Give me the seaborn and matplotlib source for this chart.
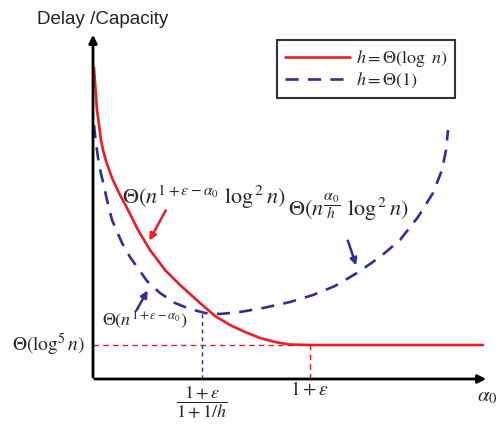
import numpy as np
import pandas as pd
import matplotlib
matplotlib.use('Agg')
import matplotlib.pyplot as plt
import seaborn as sns

# --- DATOS (unidades del dibujo: origen en el cruce de los ejes) ---
x_logn = [1, 4, 8, 10, 13, 19, 25, 35, 45, 57, 72, 87, 107, 122, 137, 152, 167,
          182, 197, 217, 390]
y_logn = [311, 269, 239, 229, 218, 201, 188, 169, 149, 129, 109, 94, 76, 63, 54,
          47, 41, 37, 34.5, 34, 34]

x_const = [1, 2, 4, 6, 10, 14, 19, 29, 37, 54, 67, 82, 97, 112, 127, 147, 170, 197,
           220, 242, 264, 287, 307, 325, 340, 349, 353, 355]
y_const = [254, 244, 229, 214, 197, 179, 159, 136, 122, 98, 86, 76, 70, 66, 65, 67, 71,
           77, 84, 93, 106, 122, 139, 162, 186, 209, 229, 249]

alpha_crit = 217      # 1 + eps
alpha_h = 109         # (1+eps)/(1+1/h)
y_floor = 34          # Theta(log^5 n)
y_min_const = 66

labels = [r'$h=\Theta(\log\ n)$', r'$h=\Theta(1)$']

RED = '#ED1C24'
BLUE = '#2E3192'

df = pd.concat([
    pd.DataFrame({'x': x_logn, 'y': y_logn, 'serie': labels[0]}),
    pd.DataFrame({'x': x_const, 'y': y_const, 'serie': labels[1]}),
])

sns.set_style('white')
plt.rcParams['mathtext.fontset'] = 'stix'
plt.rcParams['font.family'] = ['Liberation Sans', 'DejaVu Sans']

fig = plt.figure(figsize=(5.03, 4.24), dpi=100)
ax = fig.add_axes([0, 0, 1, 1])
ax.set_xlim(-93, 410)
ax.set_ylim(-45, 379)
ax.axis('off')

sns.lineplot(data=df, x='x', y='y', hue='serie', style='serie', sort=False,
             palette={labels[0]: RED, labels[1]: BLUE},
             dashes={labels[0]: '', labels[1]: (5, 3.5)},
             linewidth=1.9, ax=ax, legend=False)

# ejes con flechas
ax.annotate('', xy=(0, 347), xytext=(0, -1),
            arrowprops=dict(arrowstyle='-|>', color='black', lw=2, mutation_scale=12))
ax.annotate('', xy=(396, 0), xytext=(-1, 0),
            arrowprops=dict(arrowstyle='-|>', color='black', lw=2, mutation_scale=12))

# líneas de referencia
ax.plot([0, alpha_crit], [y_floor, y_floor], color=RED, lw=1, dashes=(4, 3))
ax.plot([alpha_crit, alpha_crit], [0, y_floor], color=RED, lw=1, dashes=(4, 3))
ax.plot([alpha_h, alpha_h], [0, y_min_const], color=BLUE, lw=1, dashes=(3, 2.5))

# leyenda
ax.plot([], [], color=RED, lw=1.9, label=labels[0])
ax.plot([], [], color=BLUE, lw=1.9, dashes=(5, 3.5), label=labels[1])
leg = ax.legend(loc='upper left', bbox_to_anchor=(0.551, 0.906), fontsize=13,
                frameon=True, fancybox=False, handlelength=3.6, handletextpad=0.3,
                borderpad=0.45, labelspacing=0.1, borderaxespad=0)
leg.get_frame().set_edgecolor('black')
leg.get_frame().set_linewidth(1.5)

# textos
ax.text(10, 359, 'Delay /Capacity', fontsize=13.5, ha='center', va='center', color='#222222')
ax.text(29, 182, r'$\Theta(n^{1+\varepsilon-\alpha_0}\ \log^{\,2} n)$', fontsize=16,
        ha='left', va='center')
ax.text(195, 172, r'$\Theta(n^{\dfrac{\alpha_0}{h}}\ \log^{\,2} n)$', fontsize=16,
        ha='left', va='center')
ax.text(9, 59, r'$\Theta(n^{1+\varepsilon-\alpha_0})$', fontsize=13, ha='left', va='center')
ax.text(-8, y_floor, r'$\Theta(\log^5 n)$', fontsize=14, ha='right', va='center')
ax.text(alpha_crit, -11, r'$1+\varepsilon$', fontsize=14, ha='center', va='center')
ax.text(alpha_h, -23, r'$\dfrac{1+\varepsilon}{1+1/h}$', fontsize=13, ha='center', va='center')
ax.text(394, -18, r'$\alpha_0$', fontsize=15, ha='center', va='center')

# flechas de anotación
ax.annotate('', xy=(55, 136), xytext=(74, 171),
            arrowprops=dict(arrowstyle='-|>', color=RED, lw=1.8, mutation_scale=10))
ax.annotate('', xy=(264, 111), xytext=(254, 141),
            arrowprops=dict(arrowstyle='-|>', color=BLUE, lw=1.8, mutation_scale=10))
ax.annotate('', xy=(56, 91), xytext=(42, 66),
            arrowprops=dict(arrowstyle='-|>', color=BLUE, lw=1.8, mutation_scale=10))

fig.savefig('out.png', dpi=100)
